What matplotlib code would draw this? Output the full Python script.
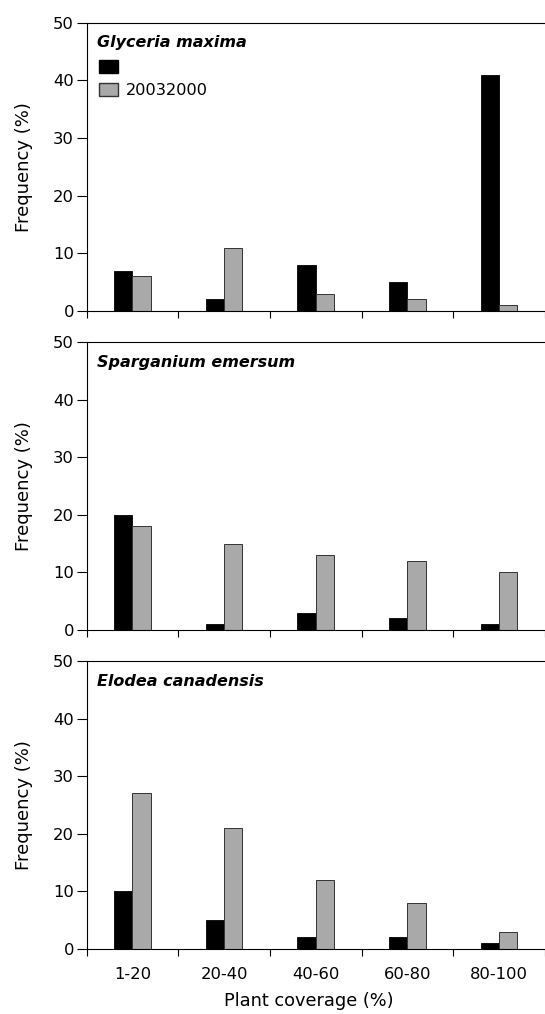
import numpy as np
import matplotlib.pyplot as plt
from matplotlib.patches import Patch

plt.rcParams['font.family'] = ['DejaVu Sans']

# Plant coverage classes
categories = ["1-20", "20-40", "40-60", "60-80", "80-100"]
species = ["Glyceria maxima", "Sparganium emersum", "Elodea canadensis"]

# Frequency (%) per species: first series (black), second series (grey)
glyceria_black = [7, 2, 8, 5, 41]
glyceria_grey = [6, 11, 3, 2, 1]
sparganium_black = [20, 1, 3, 2, 1]
sparganium_grey = [18, 15, 13, 12, 10]
elodea_black = [10, 5, 2, 2, 1]
elodea_grey = [27, 21, 12, 8, 3]

black_series = [glyceria_black, sparganium_black, elodea_black]
grey_series = [glyceria_grey, sparganium_grey, elodea_grey]
legend_label = "20032000"

W, H = 545, 1014
fig = plt.figure(figsize=(W / 100, H / 100), dpi=100)

left, right = 86.5, 545
cat_w = 93.5  # pixel width of one coverage class
panels = [(22.7, 311), (342, 630), (661, 949)]  # pixel top/bottom of each axes
x = np.arange(len(categories))
bw = 0.2
grey = "#a9a9a9"

for i, (top, bot) in enumerate(panels):
    ax = fig.add_axes([left / W, 1 - bot / H, (right - left) / W, (bot - top) / H])
    ax.bar(x - 0.1, black_series[i], width=bw, color="black", edgecolor="black", linewidth=0.6)
    ax.bar(x + 0.1, grey_series[i], width=bw, color=grey, edgecolor="#333333", linewidth=0.7)

    ax.set_ylim(0, 50)
    ax.set_yticks([0, 10, 20, 30, 40, 50])
    ax.set_xlim(-0.5, -0.5 + (right - left) / cat_w)

    # x ticks at the class boundaries, labels at the class centres
    ax.set_xticks(np.arange(len(categories) + 1) - 0.5)
    ax.set_xticklabels([])
    ax.set_xticks(x, minor=True)
    ax.tick_params(axis="x", which="major", direction="out", length=5, width=0.8)
    ax.tick_params(axis="x", which="minor", length=0, pad=13, labelsize=11.8)
    ax.tick_params(axis="y", direction="out", length=7, width=0.8, labelsize=11.8, pad=2)
    if i == 2:
        ax.set_xticklabels(categories, minor=True)
        ax.set_xlabel("Plant coverage (%)", fontsize=12.8)
        ax.xaxis.set_label_coords(0.485, -0.148)

    ax.spines["right"].set_visible(False)
    for s in ("top", "bottom", "left"):
        ax.spines[s].set_linewidth(0.8)

    ax.set_ylabel("Frequency (%)", fontsize=13)
    ax.yaxis.set_label_coords(-0.117, 0.5)

    ax.text(0.023, 0.93, species[i], transform=ax.transAxes, fontsize=11.5,
            fontstyle="italic", fontweight="bold", va="center", ha="left")

    if i == 0:
        handles = [Patch(facecolor="black", edgecolor="black"),
                   Patch(facecolor=grey, edgecolor="#333333")]
        ax.legend(handles, ["", legend_label], loc="upper left",
                  bbox_to_anchor=(0.027, 0.87), frameon=False, fontsize=11.6,
                  borderpad=0, borderaxespad=0, handlelength=1.2,
                  handleheight=0.8, handletextpad=0.5, labelspacing=0.5)

fig.savefig("out.png", dpi=100)
